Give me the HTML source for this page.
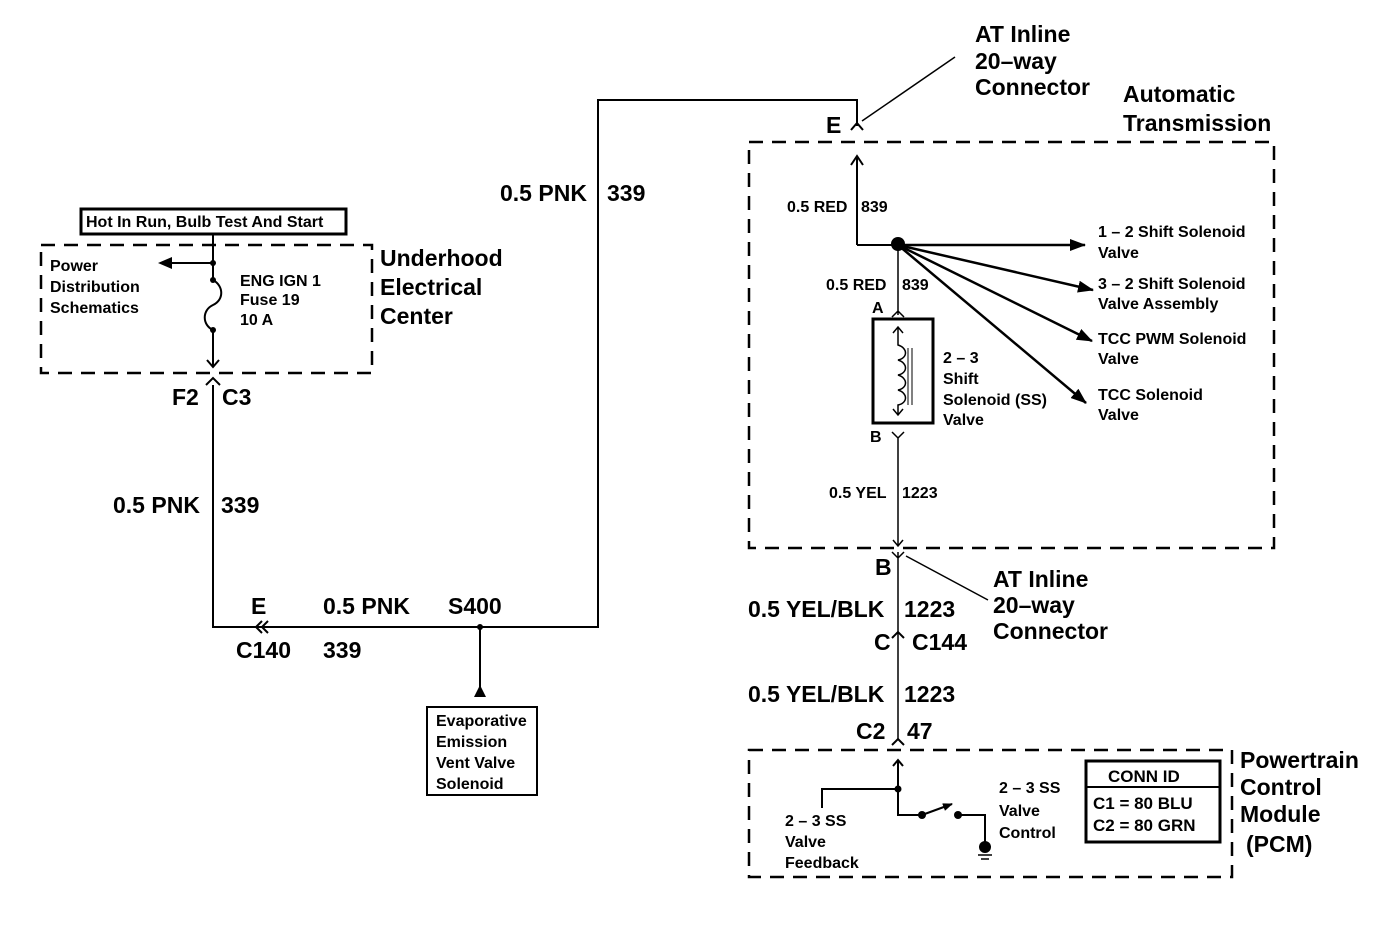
<!DOCTYPE html>
<html><head><meta charset="utf-8"><style>
html,body{margin:0;padding:0;background:#fff}
svg{display:block}
text{font-family:"Liberation Sans",sans-serif;fill:#000;font-weight:bold}
.s{font-size:16px}.m{font-size:23px}.l{font-size:23px}
</style></head><body>
<svg width="1400" height="928" viewBox="0 0 1400 928" xmlns="http://www.w3.org/2000/svg">
<defs><marker id="ah" markerWidth="10" markerHeight="8" refX="9" refY="4" orient="auto" markerUnits="userSpaceOnUse"><path d="M0,0 L10,4 L0,8z"/></marker>
<marker id="ah2" markerWidth="16" markerHeight="12" refX="15" refY="6" orient="auto" markerUnits="userSpaceOnUse"><path d="M0,0 L16,6 L0,12z"/></marker></defs>
<g stroke="#000" fill="none">
<rect x="81" y="209" width="265" height="25" stroke-width="3"/>
<rect x="41" y="245" width="331" height="128" stroke-width="2.5" stroke-dasharray="14,9"/>
<path d="M213 235 V280 M213 330 V366" stroke-width="2"/>
<path d="M213 280 C224 286 224 300 213 305 C202 310 202 325 213 330" stroke-width="2"/>
<path d="M207 360 L213 367 L219 360" stroke-width="2"/>
<path d="M213 263 H168" stroke-width="2"/>
<path d="M206 385 L213 378 L220 385 M213 385 V627 H598 V100 H857 V126" stroke-width="2"/>
<path d="M262 621 L256 627 L262 633 M268 621 L262 627 L268 633" stroke-width="2"/>
<path d="M480 627 V690" stroke-width="2"/>
<rect x="427" y="707" width="110" height="88" stroke-width="2"/>
<path d="M851 130 L857 123 L863 130" stroke-width="2"/>
<path d="M862 121 L955 57" stroke-width="1.5"/>
<rect x="749" y="142" width="525" height="406" stroke-width="2.5" stroke-dasharray="14,9"/>
<path d="M857 245 V158 M851 165 L857 156 L863 165 M857 245 H898" stroke-width="2"/>
<path d="M898 245 H1085" stroke-width="2.5" marker-end="url(#ah2)"/>
<path d="M898 245 L1093 290" stroke-width="2.5" marker-end="url(#ah2)"/>
<path d="M898 245 L1092 341" stroke-width="2.5" marker-end="url(#ah2)"/>
<path d="M898 245 L1086 403" stroke-width="2.5" marker-end="url(#ah2)"/>
<path d="M898 245 V315 M892 317 L898 311 L904 317" stroke-width="1.5"/>
<rect x="873" y="319" width="60" height="104" stroke-width="3"/>
<path d="M898 327 V345 C908 348 908 358 898 360 C908 363 908 373 898 375 C908 378 908 388 898 390 C908 393 908 403 898 405 V415 M893 333 L898 327 L903 333 M893 409 L898 415 L903 409" stroke-width="1.5"/>
<path d="M908 348 V405 M912 348 V405" stroke-width="1"/>
<path d="M892 432 L898 438 L904 432 M898 438 V546 M893 540 L898 546 L903 540" stroke-width="1.5"/>
<path d="M892 552 L898 558 L904 552 M898 552 V740 M906 556 L988 600" stroke-width="1.5"/>
<path d="M892 638 L898 632 L904 638 M892 745 L898 739 L904 745" stroke-width="2"/>
<rect x="749" y="750" width="483" height="127" stroke-width="2.5" stroke-dasharray="14,9"/>
<path d="M898 760 V815 H922 M822 808 V789 H898 M958 815 H985 V845 M893 766 L898 760 L903 766" stroke-width="2"/>
<path d="M922 815 L952 804" stroke-width="2" marker-end="url(#ah)"/>
<path d="M978 855 H992 M981 859 H989" stroke-width="1.5"/>
<rect x="1086" y="761" width="134" height="81" stroke-width="3"/>
<path d="M1086 787 H1220" stroke-width="2"/>
</g>
<path d="M158 263 L172 257 L172 269z"/>
<path d="M480 685 L474 697 L486 697z"/>
<circle cx="213" cy="263" r="3"/><circle cx="213" cy="280" r="3"/><circle cx="213" cy="330" r="3"/>
<circle cx="480" cy="627" r="3"/><circle cx="898" cy="244" r="7"/>
<circle cx="898" cy="789" r="3.5"/><circle cx="922" cy="815" r="4"/><circle cx="958" cy="815" r="4"/><circle cx="985" cy="847" r="6"/>
<text x="86" y="227" class="s">Hot In Run, Bulb Test And Start</text>
<text x="50" y="271" class="s">Power</text><text x="50" y="292" class="s">Distribution</text><text x="50" y="313" class="s">Schematics</text>
<text x="240" y="286" class="s">ENG IGN 1</text><text x="240" y="305" class="s">Fuse 19</text><text x="240" y="325" class="s">10 A</text>
<text x="380" y="266" class="l">Underhood</text><text x="380" y="295" class="l">Electrical</text><text x="380" y="324" class="l">Center</text>
<text x="172" y="405" class="m">F2</text><text x="222" y="405" class="m">C3</text>
<text x="113" y="513" class="m">0.5 PNK</text><text x="221" y="513" class="m">339</text>
<text x="251" y="614" class="m">E</text><text x="323" y="614" class="m">0.5 PNK</text><text x="448" y="614" class="m">S400</text>
<text x="236" y="658" class="m">C140</text><text x="323" y="658" class="m">339</text>
<text x="436" y="726" class="s">Evaporative</text><text x="436" y="747" class="s">Emission</text><text x="436" y="768" class="s">Vent Valve</text><text x="436" y="789" class="s">Solenoid</text>
<text x="500" y="201" class="m">0.5 PNK</text><text x="607" y="201" class="m">339</text>
<text x="826" y="133" class="m">E</text>
<text x="975" y="42" class="l">AT Inline</text><text x="975" y="69" class="l">20–way</text><text x="975" y="95" class="l">Connector</text>
<text x="1123" y="102" class="l">Automatic</text><text x="1123" y="131" class="l">Transmission</text>
<text x="787" y="212" class="s">0.5 RED</text><text x="861" y="212" class="s">839</text>
<text x="826" y="290" class="s">0.5 RED</text><text x="902" y="290" class="s">839</text>
<text x="872" y="313" class="s">A</text><text x="870" y="442" class="s">B</text>
<text x="943" y="363" class="s">2 – 3</text><text x="943" y="384" class="s">Shift</text><text x="943" y="405" class="s">Solenoid (SS)</text><text x="943" y="425" class="s">Valve</text>
<text x="1098" y="237" class="s">1 – 2 Shift Solenoid</text><text x="1098" y="258" class="s">Valve</text>
<text x="1098" y="289" class="s">3 – 2 Shift Solenoid</text><text x="1098" y="309" class="s">Valve  Assembly</text>
<text x="1098" y="344" class="s">TCC PWM Solenoid</text><text x="1098" y="364" class="s">Valve</text>
<text x="1098" y="400" class="s">TCC Solenoid</text><text x="1098" y="420" class="s">Valve</text>
<text x="829" y="498" class="s">0.5 YEL</text><text x="902" y="498" class="s">1223</text>
<text x="875" y="575" class="m">B</text>
<text x="993" y="587" class="m">AT Inline</text><text x="993" y="613" class="m">20–way</text><text x="993" y="639" class="m">Connector</text>
<text x="748" y="617" class="m">0.5 YEL/BLK</text><text x="904" y="617" class="m">1223</text>
<text x="874" y="650" class="m">C</text><text x="912" y="650" class="m">C144</text>
<text x="748" y="702" class="m">0.5 YEL/BLK</text><text x="904" y="702" class="m">1223</text>
<text x="856" y="739" class="m">C2</text><text x="907" y="739" class="m">47</text>
<text x="1240" y="768" class="m">Powertrain</text><text x="1240" y="795" class="m">Control</text><text x="1240" y="822" class="m">Module</text><text x="1246" y="852" class="m">(PCM)</text>
<text x="785" y="826" class="s">2 – 3 SS</text><text x="785" y="847" class="s">Valve</text><text x="785" y="868" class="s">Feedback</text>
<text x="999" y="793" class="s">2 – 3 SS</text><text x="999" y="816" class="s">Valve</text><text x="999" y="838" class="s">Control</text>
<text x="1108" y="782" class="s" style="font-size:17px">CONN ID</text>
<text x="1093" y="809" class="s" style="font-size:17px">C1 = 80 BLU</text><text x="1093" y="831" class="s" style="font-size:17px">C2 = 80 GRN</text>
</svg>
</body></html>
